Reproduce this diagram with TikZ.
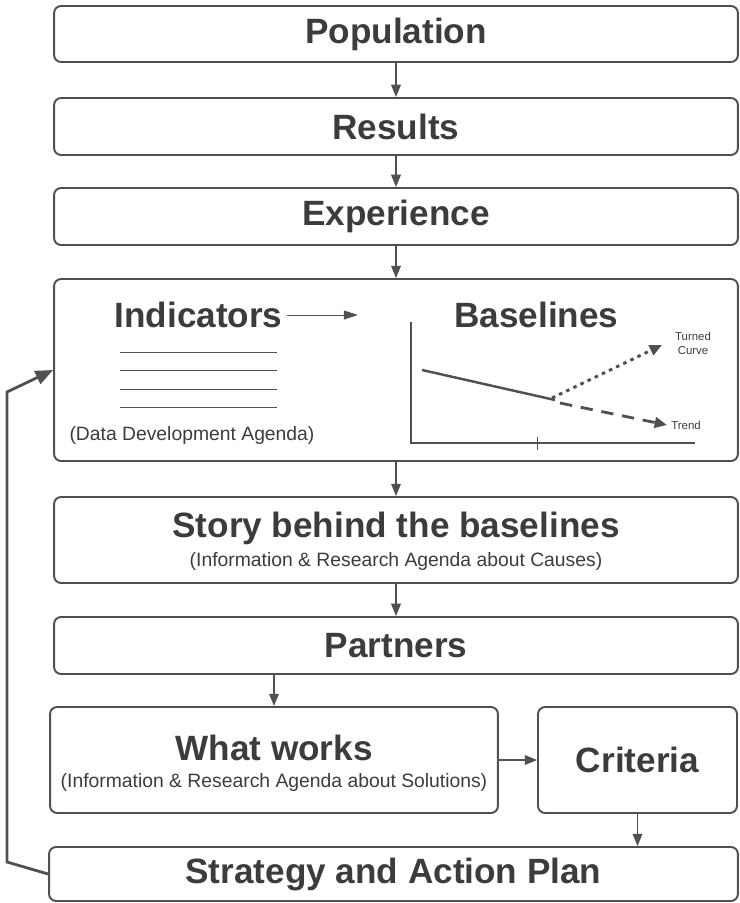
\documentclass[tikz,border=0pt]{standalone}
\usepackage{fontspec}
\setmainfont{Liberation Sans}
\usepackage{xcolor}
\usepackage{tikz}
\usetikzlibrary{arrows.meta,calc}
\definecolor{linegray}{HTML}{505050}
\definecolor{textgray}{HTML}{3C3C3C}

\begin{document}
\begin{tikzpicture}[x=0.02cm, y=-0.02cm,
    box/.style={draw=linegray, line width=1.1pt, rounded corners=4pt, inner sep=0pt,
        font=\fontsize{20}{24}\selectfont\bfseries, text=textgray},
    title/.style={inner sep=0pt, font=\fontsize{20}{24}\selectfont\bfseries, text=textgray},
    sub/.style={inner sep=0pt, font=\fontsize{11}{13}\selectfont, text=textgray},
    tiny/.style={inner sep=0pt, align=center, font=\fontsize{6.5}{7.5}\selectfont, text=textgray},
    arr/.style={-{Triangle[length=7pt,width=5.5pt]}, draw=linegray, line width=0.9pt}]
    \useasboundingbox (0,0) rectangle (740,903);

    \node[box, minimum width=13.68cm, minimum height=1.12cm] (pop) at (396,34) {Population};
    \node[box, minimum width=13.68cm, minimum height=1.14cm] (res) at (396,126.5) {Results};
    \node[box, minimum width=13.68cm, minimum height=1.14cm] (exp) at (396,216.5) {Experience};
    \node[box, minimum width=13.68cm, minimum height=3.64cm] (base) at (396,370) {};
    \node[box, minimum width=13.68cm, minimum height=1.72cm] (story) at (396,540) {};
    \node[box, minimum width=13.68cm, minimum height=1.14cm] (part) at (396,645.5) {Partners};
    \node[box, minimum width=8.96cm, minimum height=2.12cm] (works) at (274,760) {};
    \node[box, minimum width=3.98cm, minimum height=2.12cm] (crit) at (637.5,760) {Criteria};
    \node[box, minimum width=13.78cm, minimum height=1.08cm] (plan) at (393.5,874) {Strategy and Action Plan};

    \node[title] (storyt) at (396,528) {Story behind the baselines};
    \node[sub] (storys) at (396,561) {(Information \& Research Agenda about Causes)};
    \node[title] (workst) at (274,748) {What works};
    \node[sub] (workss) at (274,782) {(Information \& Research Agenda about Solutions)};

    % Indicators and baselines
    \node[title] (indt) at (198.5,315) {Indicators};
    \node[title] (baset) at (536.5,315) {Baselines};
    \coordinate (indend) at (358,315);
    \draw[-{Triangle[length=8pt,width=5pt]}, draw=linegray, line width=0.5pt] (indt.east) ++(4,0) -- (indend);
    \foreach \y in {352,370,389,407}
        \draw[linegray, line width=0.5pt] (120,\y) -- (277,\y);
    \node[sub] (dda) at (192,435) {(Data Development Agenda)};

    \draw[linegray, line width=0.9pt] (411,322) -- (411,443) -- (695,443);
    \draw[linegray, line width=0.5pt] (537,437) -- (537,450);
    \coordinate (turn) at (555,400);
    \draw[linegray, line width=1.4pt] (422,370) -- (turn);
    \draw[linegray, line width=1.7pt, dash pattern=on 2pt off 2.5pt, -{Triangle[length=7pt,width=6pt]}] (turn) ++(-3,-2) -- (662,345);
    \draw[linegray, line width=1.6pt, dash pattern=on 7pt off 5pt, -{Triangle[length=7pt,width=6pt]}] (turn) ++(5,3) -- (667,425);
    \node[tiny] (turned) at (693,343.5) {Turned\\Curve};
    \node[tiny, anchor=west] (trend) at (671,425) {Trend};

    % Flow
    \draw[arr] (pop) -- (res);
    \draw[arr] (res) -- (exp);
    \draw[arr] (exp) -- (base);
    \draw[arr] (base) -- (story);
    \draw[arr] (story) -- (part);
    \draw[arr] (works.north |- part.south) -- (works.north);
    \draw[arr] (works) -- (crit);
    \draw[arr] (crit.south) -- (crit.south |- plan.north);

    % Feedback
    \coordinate (fb1) at (7,862);
    \coordinate (fb2) at (7,392);
    \draw[-{Triangle[length=10pt,width=8pt]}, draw=linegray, line width=1.6pt] (plan.west) -- (fb1) -- (fb2) -- (base.west);
\end{tikzpicture}
\end{document}
